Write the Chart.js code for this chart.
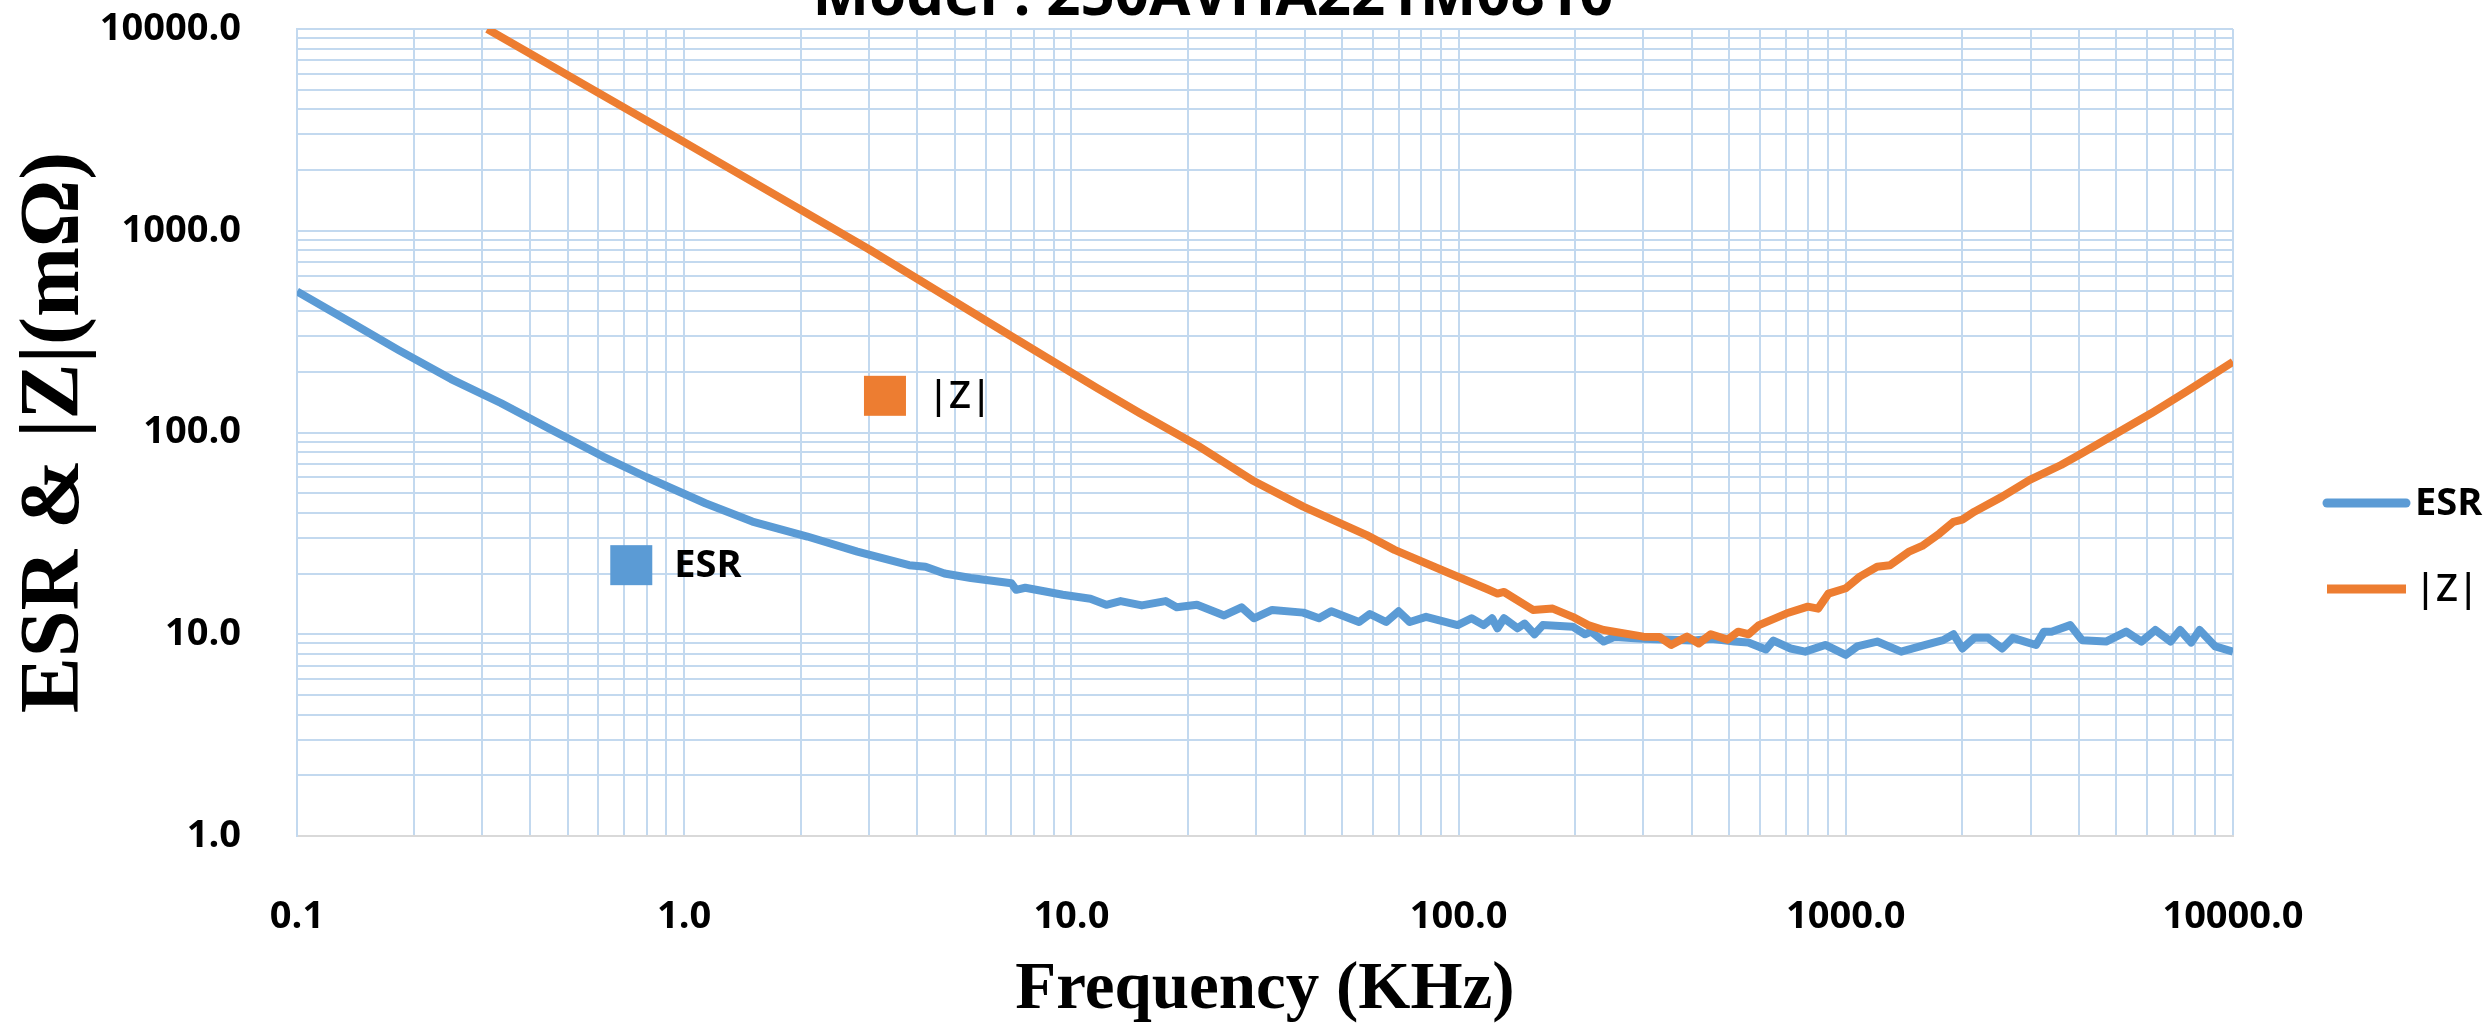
<!DOCTYPE html>
<html>
<head>
<meta charset="utf-8">
<title>ESR &amp; |Z|</title>
<script src="https://cdn.jsdelivr.net/npm/chart.js@4.4.1/dist/chart.umd.min.js"></script>
<style>
  html, body { margin: 0; padding: 0; background: #fff; overflow: hidden; }
  canvas { display: block; }
</style>
</head>
<body>
<canvas id="impedanceChart" width="2489" height="1024"></canvas>
<script>
// frequency in KHz, values in mOhm
var esrFreq = [0.1, 0.14, 0.183, 0.25, 0.336, 0.45, 0.617, 0.8, 1.134, 1.5,
  2.08, 2.8, 3.81, 4.2, 4.7, 5.5, 7.0, 7.2, 7.6, 9.5,
  11.2, 12.3, 13.4, 15.2, 17.5, 18.7, 21.1,
  24.8, 27.5, 29.6, 33, 39.7, 43.6, 46.9, 55.3, 59, 65,
  70, 74.8, 82.4, 99.4, 108, 116, 122, 126, 131, 142,
  148, 157, 165, 197, 212, 220, 237, 253, 300, 400,
  450, 515, 560, 622, 650, 720, 785, 885, 1000, 1070,
  1205, 1390, 1606, 1784, 1898, 2000, 2148, 2331, 2535, 2700,
  2900, 3100, 3250, 3400, 3800, 4074, 4700, 5300, 5800, 6300,
  6900, 7300, 7800, 8200, 9000, 10000];
var esrValues = [500, 345, 256, 184, 140, 104, 76, 60, 44.6, 36.2,
  30.5, 25.7, 22, 21.6, 20, 19, 17.9, 16.6, 17, 15.7,
  15, 14, 14.6, 13.9, 14.6, 13.6, 14,
  12.4, 13.6, 12, 13.2, 12.8, 12, 13, 11.5, 12.6, 11.5,
  13, 11.5, 12.2, 11.1, 12, 11.1, 12, 10.7, 12, 10.7,
  11.3, 10, 11.1, 10.9, 10, 10.3, 9.2, 9.7, 9.5, 9.3,
  9.5, 9.2, 9.1, 8.4, 9.3, 8.5, 8.2, 8.85, 7.9, 8.7,
  9.2, 8.2, 8.85, 9.35, 10, 8.5, 9.6, 9.6, 8.5, 9.6,
  9.2, 8.85, 10.3, 10.3, 11.1, 9.35, 9.2, 10.3, 9.2, 10.5,
  9.2, 10.5, 9.1, 10.5, 8.7, 8.2];

var zFreq = [0.31, 1, 3, 7, 11.6, 15, 21, 29.3, 39.7, 57.9,
  68.3, 92.7, 118, 126, 131, 155.6, 175, 197, 216, 237,
  300, 330, 354, 389, 417, 448, 495, 527, 561, 597,
  704, 798, 848, 902, 1000, 1087, 1205, 1300, 1452, 1575,
  1747, 1898, 2000, 2148, 2535, 2986, 3597, 4074, 5006, 6151,
  7557, 10000];
var zValues = [10000, 2750, 810, 300, 167, 125, 87, 58, 42.9, 31,
  26.2, 20.4, 16.8, 15.9, 16.2, 13.2, 13.4, 12.2, 11.1, 10.5,
  9.73, 9.7, 8.85, 9.73, 9.0, 10.0, 9.4, 10.3, 10.0, 11.1,
  12.7, 13.7, 13.4, 15.9, 16.9, 19.3, 21.6, 22, 25.6, 27.4,
  31.6, 36.1, 37, 40.5, 48.1, 58.2, 69, 78.9, 99.1, 124.5,
  159, 224];

var seriesNames = ['ESR', '|Z|'];
var xDecades = [0.1, 1, 10, 100, 1000, 10000];
var xTickLabels = ['0.1', '1.0', '10.0', '100.0', '1000.0', '10000.0'];
var yDecades = [1, 10, 100, 1000, 10000];
var yTickLabels = ['1.0', '10.0', '100.0', '1000.0', '10000.0'];
var modelName = 'Model : 250AVHA221M0810';

var blue = '#5b9bd5';
var orange = '#ed7d31';
var gridColor = '#c3d9ef';
var tickFont = { family: 'Open Sans', size: 38, weight: 'bold' };

// where the little series tags sit, in data units
var tagSpots = [
  { x: 0.73, y: 22, weight: 'bold' },
  { x: 3.3, y: 152, weight: '600' }
];

function toPoints(freqs, values) {
  return freqs.map(function(f, i) {
    return { x: f, y: values[i] };
  });
}

// 1..9 in every decade, used for the grid
function gridValues(decades) {
  var values = [];
  decades.forEach(function(d, i) {
    if (i == decades.length - 1) {
      values.push(d);
      return;
    }
    for (var k = 1; k < 10; k++) {
      values.push(Math.round(d * k * 1000) / 1000);
    }
  });
  return values;
}

function tickLabel(value, decades, labels) {
  for (var i = 0; i < decades.length; i++) {
    if (Math.abs(value - decades[i]) < decades[i] * 1e-6) return labels[i];
  }
  return '';
}

var decorations = {
  id: 'decorations',
  afterDraw: function(chart) {
    var ctx = chart.ctx;
    var area = chart.chartArea;
    var xs = chart.scales.x;
    var ys = chart.scales.y;
    ctx.save();

    // title, cut by the top edge like in the source picture
    ctx.fillStyle = '#000';
    ctx.font = 'bold 60px "Open Sans"';
    ctx.textAlign = 'center';
    ctx.textBaseline = 'alphabetic';
    ctx.fillText(modelName, 1213, 15);

    // series tags inside the plot
    tagSpots.forEach(function(spot, i) {
      var px = xs.getPixelForValue(spot.x);
      var py = ys.getPixelForValue(spot.y);
      ctx.fillStyle = chart.data.datasets[i].borderColor;
      ctx.fillRect(px - 21, py - 20, 42, 40);
      ctx.fillStyle = '#000';
      ctx.font = spot.weight + ' 38px "Open Sans"';
      ctx.textAlign = 'left';
      ctx.textBaseline = 'middle';
      ctx.fillText(seriesNames[i], px + 43, py + 1);
    });

    // legend at the right
    var legendY = [area.top + 474, area.top + 560];
    var caps = ['round', 'butt'];
    seriesNames.forEach(function(name, i) {
      ctx.strokeStyle = chart.data.datasets[i].borderColor;
      ctx.lineWidth = 9;
      ctx.lineCap = caps[i];
      ctx.beginPath();
      ctx.moveTo(area.right + 94, legendY[i]);
      ctx.lineTo(area.right + 173, legendY[i]);
      ctx.stroke();
      ctx.fillStyle = '#000';
      ctx.font = tagSpots[i].weight + ' 38px "Open Sans"';
      ctx.textAlign = 'left';
      ctx.textBaseline = 'middle';
      ctx.fillText(name, area.right + 182, legendY[i] + 1);
    });

    ctx.restore();
  }
};

var ctx = document.getElementById('impedanceChart');
var impedanceChart = new Chart(ctx, {
  type: 'line',
  data: {
    datasets: [
      {
        label: seriesNames[0],
        data: toPoints(esrFreq, esrValues),
        borderColor: blue,
        backgroundColor: blue,
        borderWidth: 8,
        borderJoinStyle: 'round',
        pointRadius: 0,
        tension: 0,
        order: 1
      },
      {
        label: seriesNames[1],
        data: toPoints(zFreq, zValues),
        borderColor: orange,
        backgroundColor: orange,
        borderWidth: 8,
        borderJoinStyle: 'round',
        pointRadius: 0,
        tension: 0,
        order: 0
      }
    ]
  },
  options: {
    responsive: false,
    animation: false,
    devicePixelRatio: 1,
    layout: { padding: { top: 29, right: 256, left: 0, bottom: 0 } },
    plugins: {
      legend: { display: false },
      tooltip: { enabled: false },
      title: { display: false }
    },
    scales: {
      x: {
        type: 'logarithmic',
        min: 0.1,
        max: 10000,
        afterBuildTicks: function(axis) {
          axis.ticks = gridValues(xDecades).map(function(v) { return { value: v }; });
        },
        afterFit: function(axis) { axis.height = 188; },
        ticks: {
          autoSkip: false,
          maxRotation: 0,
          padding: 2,
          color: '#000',
          font: tickFont,
          callback: function(value) { return tickLabel(value, xDecades, xTickLabels); }
        },
        // invisible tick marks give the label gap without inflating the padding
        grid: { color: gridColor, lineWidth: 2, drawTicks: true, tickLength: 56, tickColor: 'rgba(0,0,0,0)' },
        border: { color: '#d9d9d9', width: 2 },
        title: {
          display: true,
          text: 'Frequency (KHz)',
          color: '#000',
          font: { family: 'Liberation Serif', size: 67, weight: 'bold', lineHeight: 1 },
          padding: 0
        }
      },
      y: {
        type: 'logarithmic',
        min: 1,
        max: 10000,
        afterBuildTicks: function(axis) {
          axis.ticks = gridValues(yDecades).map(function(v) { return { value: v }; });
        },
        afterFit: function(axis) { axis.width = 297; },
        ticks: {
          autoSkip: false,
          padding: 2,
          color: '#000',
          font: tickFont,
          callback: function(value) { return tickLabel(value, yDecades, yTickLabels); }
        },
        grid: { color: gridColor, lineWidth: 2, drawTicks: true, tickLength: 54, tickColor: 'rgba(0,0,0,0)' },
        border: { color: gridColor, width: 2 },
        title: {
          display: true,
          text: 'ESR & |Z|(mΩ)',
          color: '#000',
          font: { family: 'Liberation Serif', size: 84, weight: 'bold', lineHeight: 1 },
          padding: { top: 14, bottom: 0 }
        }
      }
    }
  },
  plugins: [decorations]
});
</script>
</body>
</html>
